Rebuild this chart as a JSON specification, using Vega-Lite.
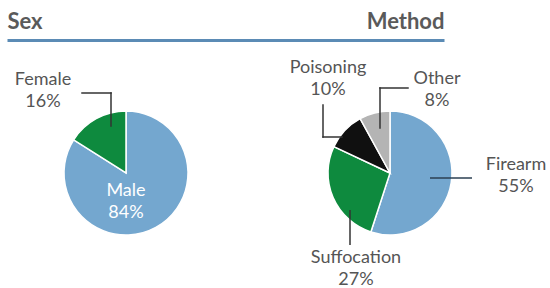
{
  "$schema": "https://vega.github.io/schema/vega-lite/v6.json",
  "width": 550,
  "height": 248,
  "padding": 0,
  "autosize": {"type": "pad"},
  "background": "#ffffff",
  "config": {"view": {"stroke": null}, "font": "Lato"},
  "data": {"values": [
    {"group": "Sex", "category": "Male", "share": 0.84, "k": 1},
    {"group": "Sex", "category": "Female", "share": 0.16, "k": 2},
    {"group": "Method", "category": "Firearm", "share": 0.55, "k": 1},
    {"group": "Method", "category": "Suffocation", "share": 0.27, "k": 2},
    {"group": "Method", "category": "Poisoning", "share": 0.10, "k": 3},
    {"group": "Method", "category": "Other", "share": 0.08, "k": 4}
  ]},
  "transform": [{"calculate": "datum.category + '\\n' + format(datum.share, '.0%')", "as": "label"}],
  "resolve": {"scale": {"x": "independent"}, "axis": {"x": "independent"}},
  "layer": [
    {
      "mark": {"type": "point", "opacity": 0},
      "encoding": {
        "x": {
          "field": "group", "type": "ordinal",
          "scale": {"type": "point", "domain": ["Sex", "Method"], "range": [7, 444], "padding": 0},
          "axis": {
            "orient": "top", "title": null, "ticks": false, "grid": false,
            "domainColor": "#5b8bb5", "domainWidth": 3, "domainCap": "butt",
            "labelFont": "Lato", "labelFontSize": 22, "labelFontWeight": "bold", "labelColor": "#5a5a5a",
            "labelPadding": 12, "labelBaseline": "alphabetic", "labelAngle": 0,
            "labelAlign": {"condition": {"test": "datum.value === 'Sex'", "value": "left"}, "value": "right"},
            "labelOverlap": false, "labelBound": false,
            "minExtent": 40, "maxExtent": 40
          }
        }
      }
    },
    {
      "encoding": {
        "x": {"field": "group", "type": "ordinal", "scale": {"type": "point", "domain": ["Sex", "Method"], "range": [126, 390], "padding": 0}, "axis": null},
        "y": {"field": "group", "type": "ordinal", "scale": {"type": "point", "domain": ["Sex", "Method"], "range": [133, 133], "padding": 0}, "axis": null}
      },
      "layer": [
        {
          "transform": [{"filter": "datum.group === 'Sex'"}],
          "mark": {"type": "arc", "outerRadius": 62, "stroke": "#ffffff", "strokeWidth": 1.5},
          "encoding": {
            "theta": {"field": "share", "type": "quantitative", "stack": true},
            "order": {"field": "k", "type": "quantitative"},
            "color": {"field": "category", "type": "nominal", "legend": null,
              "scale": {"domain": ["Male", "Female", "Firearm", "Suffocation", "Poisoning", "Other"],
                        "range": ["#74a7cf", "#0e8a3e", "#74a7cf", "#0e8a3e", "#101010", "#b4b4b4"]}}
          }
        },
        {
          "transform": [{"filter": "datum.group === 'Method'"}],
          "mark": {"type": "arc", "outerRadius": 62, "stroke": "#ffffff", "strokeWidth": 1.5},
          "encoding": {
            "theta": {"field": "share", "type": "quantitative", "stack": true},
            "order": {"field": "k", "type": "quantitative"},
            "color": {"field": "category", "type": "nominal", "legend": null}
          }
        },
        {
          "transform": [{"filter": "datum.category === 'Female'"}],
          "mark": {"type": "rule", "color": "#333333", "strokeWidth": 1.5, "strokeCap": "square", "xOffset": -44, "x2Offset": -15, "yOffset": -80, "y2Offset": -80},
          "encoding": {"x2": {"field": "group"}, "y2": {"field": "group"}}
        },
        {
          "transform": [{"filter": "datum.category === 'Female'"}],
          "mark": {"type": "rule", "color": "#333333", "strokeWidth": 1.5, "strokeCap": "square", "xOffset": -15, "x2Offset": -15, "yOffset": -80, "y2Offset": -47},
          "encoding": {"x2": {"field": "group"}, "y2": {"field": "group"}}
        },
        {
          "transform": [{"filter": "datum.category === 'Poisoning'"}],
          "mark": {"type": "rule", "color": "#333333", "strokeWidth": 1.5, "strokeCap": "square", "xOffset": -67, "x2Offset": -67, "yOffset": -68, "y2Offset": -36},
          "encoding": {"x2": {"field": "group"}, "y2": {"field": "group"}}
        },
        {
          "transform": [{"filter": "datum.category === 'Poisoning'"}],
          "mark": {"type": "rule", "color": "#333333", "strokeWidth": 1.5, "strokeCap": "square", "xOffset": -67, "x2Offset": -48, "yOffset": -36, "y2Offset": -36},
          "encoding": {"x2": {"field": "group"}, "y2": {"field": "group"}}
        },
        {
          "transform": [{"filter": "datum.category === 'Other'"}],
          "mark": {"type": "rule", "color": "#333333", "strokeWidth": 1.5, "strokeCap": "square", "xOffset": -10, "x2Offset": 18, "yOffset": -85, "y2Offset": -85},
          "encoding": {"x2": {"field": "group"}, "y2": {"field": "group"}}
        },
        {
          "transform": [{"filter": "datum.category === 'Other'"}],
          "mark": {"type": "rule", "color": "#333333", "strokeWidth": 1.5, "strokeCap": "square", "xOffset": -10, "x2Offset": -10, "yOffset": -85, "y2Offset": -45},
          "encoding": {"x2": {"field": "group"}, "y2": {"field": "group"}}
        },
        {
          "transform": [{"filter": "datum.category === 'Firearm'"}],
          "mark": {"type": "rule", "color": "#2b3f52", "strokeWidth": 1.5, "strokeCap": "butt", "xOffset": 40, "x2Offset": 82, "yOffset": 5, "y2Offset": 5},
          "encoding": {"x2": {"field": "group"}, "y2": {"field": "group"}}
        },
        {
          "transform": [{"filter": "datum.category === 'Suffocation'"}],
          "mark": {"type": "rule", "color": "#333333", "strokeWidth": 1.5, "strokeCap": "butt", "xOffset": -40, "x2Offset": -40, "yOffset": 37, "y2Offset": 72},
          "encoding": {"x2": {"field": "group"}, "y2": {"field": "group"}}
        },
        {
          "transform": [{"filter": "datum.category === 'Female'"}],
          "mark": {"type": "text", "dx": -83, "dy": -93, "fontSize": 18, "lineBreak": "\n", "lineHeight": 22, "color": "#555555", "align": "center", "baseline": "middle"},
          "encoding": {"text": {"field": "label"}}
        },
        {
          "transform": [{"filter": "datum.category === 'Male'"}],
          "mark": {"type": "text", "dx": 0, "dy": 18, "fontSize": 18, "lineBreak": "\n", "lineHeight": 22, "color": "#ffffff", "align": "center", "baseline": "middle"},
          "encoding": {"text": {"field": "label"}}
        },
        {
          "transform": [{"filter": "datum.category === 'Poisoning'"}],
          "mark": {"type": "text", "dx": -62, "dy": -105, "fontSize": 18, "lineBreak": "\n", "lineHeight": 22, "color": "#555555", "align": "center", "baseline": "middle"},
          "encoding": {"text": {"field": "label"}}
        },
        {
          "transform": [{"filter": "datum.category === 'Other'"}],
          "mark": {"type": "text", "dx": 47, "dy": -94, "fontSize": 18, "lineBreak": "\n", "lineHeight": 22, "color": "#555555", "align": "center", "baseline": "middle"},
          "encoding": {"text": {"field": "label"}}
        },
        {
          "transform": [{"filter": "datum.category === 'Firearm'"}],
          "mark": {"type": "text", "dx": 126, "dy": -8, "fontSize": 18, "lineBreak": "\n", "lineHeight": 22, "color": "#555555", "align": "center", "baseline": "middle"},
          "encoding": {"text": {"field": "label"}}
        },
        {
          "transform": [{"filter": "datum.category === 'Suffocation'"}],
          "mark": {"type": "text", "dx": -34, "dy": 85, "fontSize": 18, "lineBreak": "\n", "lineHeight": 22, "color": "#555555", "align": "center", "baseline": "middle"},
          "encoding": {"text": {"field": "label"}}
        }
      ]
    }
  ]
}
